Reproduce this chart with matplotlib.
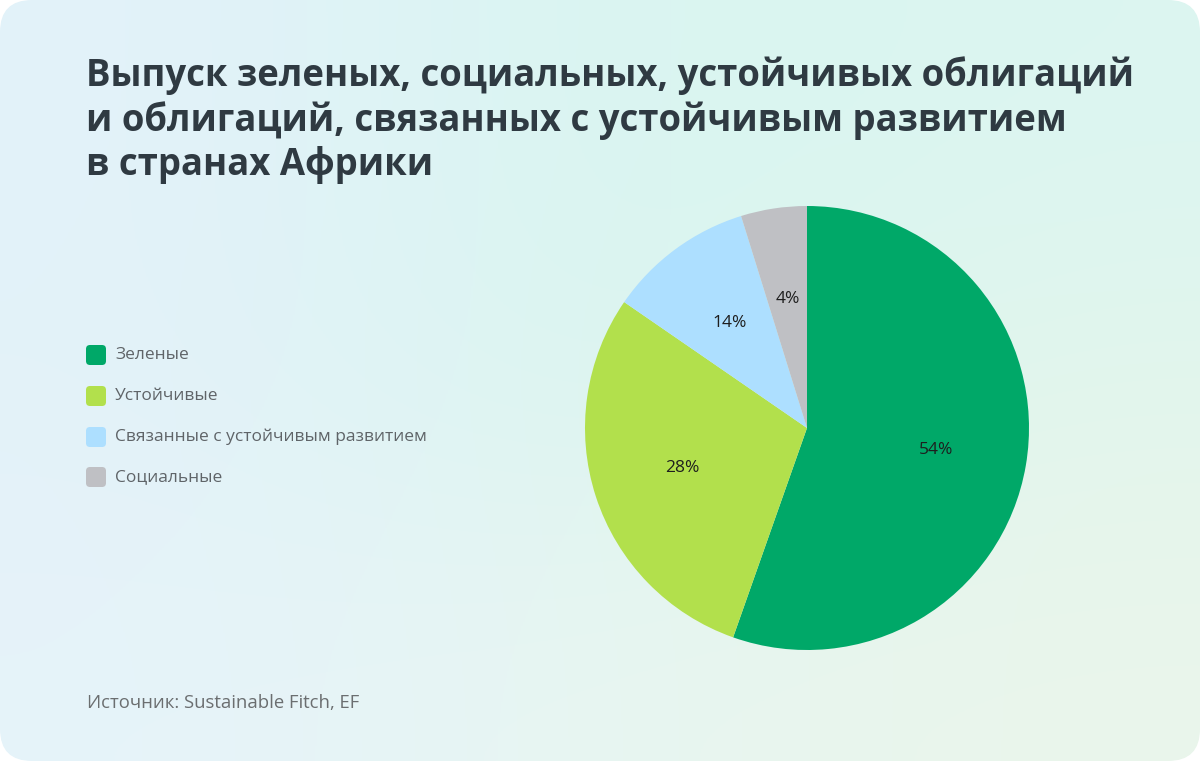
import matplotlib.pyplot as plt
import numpy as np
from matplotlib.patches import FancyBboxPatch

# data
categories = ['Зеленые', 'Устойчивые', 'Связанные с устойчивым развитием', 'Социальные']
shares = [55.4, 29.2, 10.6, 4.8]          # drawn slice sizes as seen in the picture
pct_labels = ['54%', '28%', '14%', '4%']  # printed labels
colors = ['#00a868', '#b2e04c', '#addfff', '#bfc0c4']

title = ('Выпуск зеленых, социальных, устойчивых облигаций\n'
         'и облигаций, связанных с устойчивым развитием\n'
         'в странах Африки')
source = 'Источник: Sustainable Fitch, EF'

plt.rcParams['font.family'] = ['Open Sans', 'DejaVu Sans']

W, H = 1200, 761
fig = plt.figure(figsize=(W / 100, H / 100), dpi=100)
fig.patch.set_facecolor('white')

# background card with soft gradient
bg = fig.add_axes([0, 0, 1, 1])
bg.set_xlim(0, W)
bg.set_ylim(0, H)
bg.axis('off')
grid = np.array([
    [[0xe3, 0xf2, 0xfa], [0xd8, 0xf5, 0xf0], [0xdc, 0xf6, 0xf1]],
    [[0xe3, 0xf2, 0xf9], [0xd9, 0xf5, 0xef], [0xe2, 0xf6, 0xec]],
    [[0xe6, 0xf3, 0xfa], [0xe8, 0xf6, 0xf1], [0xea, 0xf6, 0xeb]],
]) / 255.0
bg.imshow(grid, extent=[0, W, 0, H], interpolation='bicubic', aspect='auto', zorder=0)
card = FancyBboxPatch((0, 0), W, H, boxstyle='round,pad=0,rounding_size=32',
                      facecolor='none', edgecolor='none', transform=bg.transData)
bg.add_patch(card)
bg.images[0].set_clip_path(card)

# title
fig.text(86 / W, 1 - 56 / H, title, fontsize=26.3, fontweight='bold', color='#2f3a42',
         va='top', ha='left', linespacing=1.22)

# legend
leg_y = [355, 396, 437, 477]
for name, col, y in zip(categories, colors, leg_y):
    sq = FancyBboxPatch((86, H - y - 10), 20, 20, boxstyle='round,pad=0,rounding_size=4',
                        facecolor=col, edgecolor='none', transform=bg.transData)
    bg.add_patch(sq)
    bg.text(115, H - y, name, fontsize=12.5, color='#5f6468', va='center', ha='left')

# source
fig.text(87 / W, 1 - 703 / H, source, fontsize=13.3, color='#6b6e70', va='center', ha='left')

# pie
cx, cy, r = 807, 428, 222
ax = fig.add_axes([(cx - r) / W, (H - cy - r) / H, 2 * r / W, 2 * r / H])
wedges, _ = ax.pie(shares, colors=colors, startangle=90, counterclock=False,
                   wedgeprops=dict(linewidth=0))
ax.set_xlim(-1, 1)
ax.set_ylim(-1, 1)
ax.axis('off')
for w, lab in zip(wedges, pct_labels):
    mid = np.deg2rad((w.theta1 + w.theta2) / 2)
    d = 0.59
    ax.text(d * np.cos(mid), d * np.sin(mid), lab, fontsize=12.5, color='#1e1e1e',
            ha='center', va='center')

fig.savefig('out.png', dpi=100)
